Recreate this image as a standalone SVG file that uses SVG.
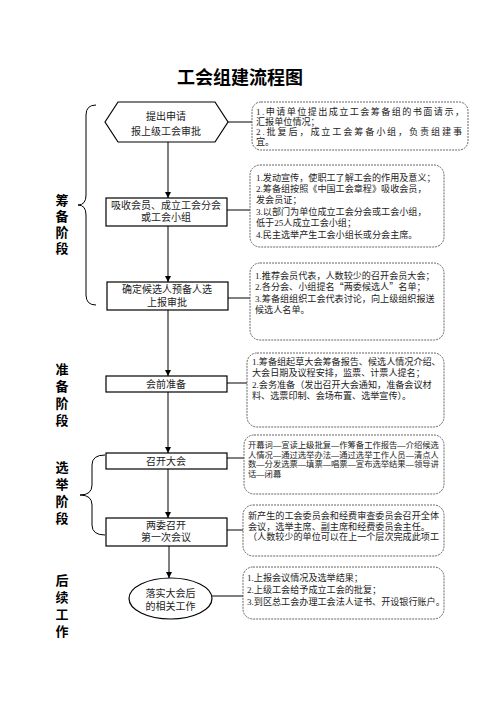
<svg xmlns="http://www.w3.org/2000/svg" width="496" height="702" viewBox="0 0 496 702">
<defs>
<marker id="arr" viewBox="0 0 8 8" refX="8" refY="4" markerWidth="6" markerHeight="6" orient="auto" markerUnits="userSpaceOnUse">
<path d="M0,0 L8,4 L0,8 Z" fill="#000"/>
</marker>
<style>
.node{fill:#fff;stroke:#000;stroke-width:1.2}
.nt{font-family:"Liberation Serif","Noto Sans CJK SC",serif;font-size:10px;fill:#222;text-anchor:middle}
.call{fill:#fff;stroke:#555;stroke-width:0.9;stroke-dasharray:2,1}
.ct{font-family:"Liberation Serif","Noto Sans CJK SC",serif;font-size:9.1px;fill:#222}
.ce{font-family:"Liberation Serif","Noto Sans CJK SC",serif;font-size:8.3px;fill:#222}
.cjk{font-family:"Noto Sans CJK SC",serif}
.ln{stroke:#000;stroke-width:1;fill:none}
.br{stroke:#000;stroke-width:1;fill:none}
.lab{font-family:"Liberation Serif","Noto Sans CJK SC",sans-serif;font-size:13px;font-weight:bold;fill:#000;text-anchor:middle}
.title{font-family:"Liberation Serif","Noto Sans CJK SC",sans-serif;font-size:18px;font-weight:bold;fill:#000;text-anchor:middle}
</style>
</defs>
<rect width="496" height="702" fill="#fff"/>
<text class="title" x="240" y="84">工会组建流程图</text>

<g id="connectors">
<line class="ln" x1="168" y1="142" x2="168" y2="198" marker-end="url(#arr)"/>
<line class="ln" x1="168" y1="226" x2="168" y2="282" marker-end="url(#arr)"/>
<line class="ln" x1="168" y1="310" x2="168" y2="376" marker-end="url(#arr)"/>
<line class="ln" x1="168" y1="392" x2="168" y2="453" marker-end="url(#arr)"/>
<line class="ln" x1="168" y1="469" x2="168" y2="518" marker-end="url(#arr)"/>
<line class="ln" x1="169" y1="546" x2="169" y2="578" marker-end="url(#arr)"/>
<line class="ln" x1="228" y1="122" x2="252" y2="122"/>
<line class="ln" x1="227" y1="210" x2="250" y2="210"/>
<line class="ln" x1="228" y1="298" x2="250" y2="298"/>
<line class="ln" x1="227" y1="383" x2="247" y2="383"/>
<line class="ln" x1="227" y1="458" x2="244" y2="458"/>
<line class="ln" x1="227" y1="530" x2="243" y2="530"/>
<line class="ln" x1="212" y1="596" x2="243" y2="596"/>
</g>

<g id="braces">
<path class="br" d="M96,105 Q86,105 86,115 L86,195 Q86,205 78,205 Q86,205 86,215 L86,295 Q86,305 96,305"/>
<path class="br" d="M105,455 Q92,455 92,465 L92,485 Q92,495 80,495 Q92,495 92,505 L92,525 Q92,535 105,535"/>
</g>

<g id="labels">
<text class="lab" x="62" y="205">筹</text>
<text class="lab" x="62" y="221">备</text>
<text class="lab" x="62" y="237">阶</text>
<text class="lab" x="62" y="253">段</text>
<text class="lab" x="62" y="374">准</text>
<text class="lab" x="62" y="391">备</text>
<text class="lab" x="62" y="408">阶</text>
<text class="lab" x="62" y="425">段</text>
<text class="lab" x="62" y="472">选</text>
<text class="lab" x="62" y="489">举</text>
<text class="lab" x="62" y="506">阶</text>
<text class="lab" x="62" y="523">段</text>
<text class="lab" x="62" y="585">后</text>
<text class="lab" x="62" y="602">续</text>
<text class="lab" x="62" y="619">工</text>
<text class="lab" x="62" y="636">作</text>
</g>

<g id="n1">
<polygon class="node" points="105,122 118,102 215,102 228,122 215,142 118,142"/>
<text class="nt" x="166" y="119.5">提出申请</text>
<text class="nt" x="166" y="134.5">报上级工会审批</text>
</g>
<g id="n2">
<rect class="node" x="106" y="198" width="121" height="28"/>
<text class="nt" x="166" y="208.5">吸收会员、成立工会分会</text>
<text class="nt" x="166" y="221">或工会小组</text>
</g>
<g id="n3">
<rect class="node" x="107" y="282" width="121" height="28"/>
<text class="nt" x="167" y="292.5">确定候选人预备人选</text>
<text class="nt" x="167" y="305.5">上报审批</text>
</g>
<g id="n4">
<rect class="node" x="106" y="376" width="121" height="16"/>
<text class="nt" x="166" y="387.5">会前准备</text>
</g>
<g id="n5">
<rect class="node" x="106" y="453" width="121" height="16"/>
<text class="nt" x="166" y="464.5">召开大会</text>
</g>
<g id="n6">
<rect class="node" x="106" y="518" width="121" height="28"/>
<text class="nt" x="166" y="528.5">两委召开</text>
<text class="nt" x="166" y="541">第一次会议</text>
</g>
<g id="n7">
<ellipse class="node" cx="170.5" cy="598.5" rx="41.5" ry="20.5"/>
<text class="nt" x="170.5" y="596.5">落实大会后</text>
<text class="nt" x="170.5" y="609.5">的相关工作</text>
</g>

<g id="c1">
<rect class="call" x="252" y="102" width="216" height="48" rx="9"/>
<text class="ct" x="256" y="114.5" textLength="208" lengthAdjust="spacing">1.申请单位提出成立工会筹备组的书面请示，</text>
<text class="ct" x="256" y="124.5">汇报单位情况；</text>
<text class="ct" x="256" y="134.5" textLength="206" lengthAdjust="spacing">2.批复后，成立工会筹备小组，负责组建事</text>
<text class="ct" x="256" y="144.5">宜。</text>
</g>
<g id="c2">
<rect class="call" x="250" y="165" width="194" height="82" rx="10"/>
<text class="ct" x="256" y="180.5">1.发动宣传，使职工了解工会的作用及意义；</text>
<text class="ct" x="256" y="191.5">2.筹备组按照《中国工会章程》吸收会员，</text>
<text class="ct" x="256" y="202.5">发会员证；</text>
<text class="ct" x="256" y="214.5">3.以部门为单位成立工会分会或工会小组，</text>
<text class="ct" x="256" y="225.5">低于25人成立工会小组；</text>
<text class="ct" x="256" y="237.5">4.民主选举产生工会小组长或分会主席。</text>
</g>
<g id="c3">
<rect class="call" x="250" y="263" width="194" height="77" rx="10"/>
<text class="ct" x="255" y="278.5">1.推荐会员代表，人数较少的召开会员大会；</text>
<text class="ct" x="255" y="290">2.各分会、小组提名<tspan class="cjk">“</tspan>两委候选人<tspan class="cjk">”</tspan>名单；</text>
<text class="ct" x="255" y="301.5">3.筹备组组织工会代表讨论，向上级组织报送</text>
<text class="ct" x="255" y="313">候选人名单。</text>
</g>
<g id="c4">
<rect class="call" x="247" y="353" width="197" height="74" rx="10"/>
<text class="ct" x="252" y="364.5">1.筹备组起草大会筹备报告、候选人情况介绍、</text>
<text class="ct" x="252" y="376">大会日期及议程安排，监票、计票人提名；</text>
<text class="ct" x="252" y="387.5">2.会务准备（发出召开大会通知，准备会议材</text>
<text class="ct" x="252" y="399">料、选票印制、会场布置、选举宣传）。</text>
</g>
<g id="c5">
<rect class="call" x="244" y="435" width="200" height="59" rx="10"/>
<text class="ce" x="248" y="448">开幕词—宣读上级批复—作筹备工作报告—介绍候选</text>
<text class="ce" x="248" y="457.5">人情况—通过选举办法—通过选举工作人员—清点人</text>
<text class="ce" x="248" y="467">数—分发选票—填票—唱票—宣布选举结果—领导讲</text>
<text class="ce" x="248" y="476.5">话—闭幕</text>
</g>
<g id="c6">
<rect class="call" x="243" y="505" width="201" height="51" rx="10"/>
<text class="ct" x="248" y="518.5">新产生的工会委员会和经费审查委员会召开全体</text>
<text class="ct" x="248" y="529.5">会议，选举主席、副主席和经费委员会主任。</text>
<text class="ct" x="248" y="540">（人数较少的单位可以在上一个层次完成此项工</text>
</g>
<g id="c7">
<rect class="call" x="243" y="567" width="201" height="52" rx="10"/>
<text class="ct" x="247" y="580.5">1.上报会议情况及选举结果；</text>
<text class="ct" x="247" y="592.5">2.上级工会给予成立工会的批复；</text>
<text class="ct" x="247" y="604.5">3.到区总工会办理工会法人证书、开设银行账户。</text>
</g>
</svg>
